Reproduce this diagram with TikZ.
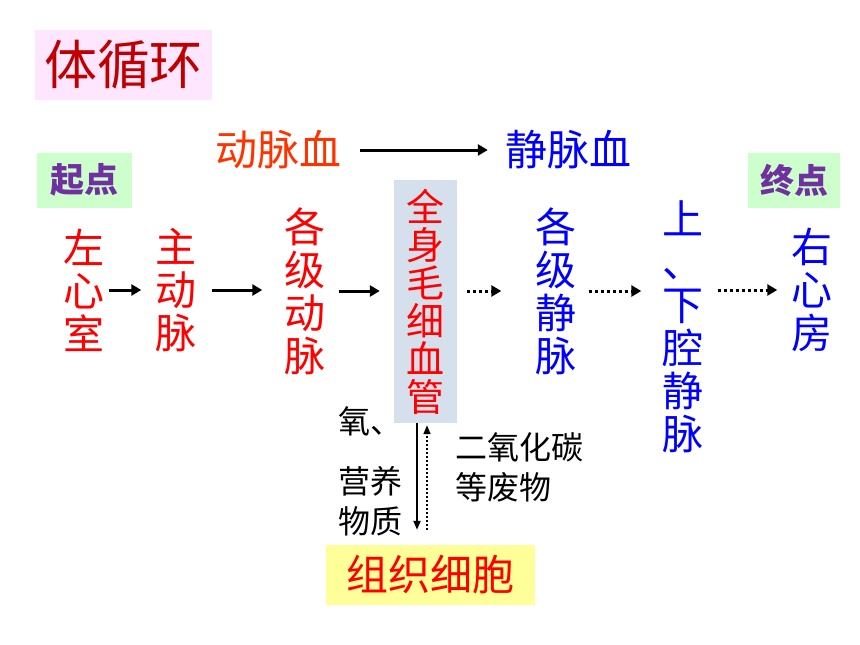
\documentclass[tikz,border=0pt]{standalone}
\usepackage{fontspec}
\setmainfont{Noto Sans CJK SC}
\usetikzlibrary{arrows.meta}
\definecolor{titlered}{HTML}{C00000}
\definecolor{artred}{HTML}{FF3300}
\definecolor{pinkbg}{HTML}{FFE6FF}
\definecolor{greenbg}{HTML}{CCFFCC}
\definecolor{capbg}{HTML}{D6E0EC}
\definecolor{yellowbg}{HTML}{FFFF99}
\definecolor{purp}{HTML}{7030A0}
\tikzset{
  vtext/.style={align=center,inner sep=0pt,font=\fontsize{41}{43}\selectfont},
  lbl/.style={inner sep=0pt,align=left,text=black,font=\fontsize{32}{40}\selectfont},
  arr/.style={-{Triangle[length=10pt,width=11pt]},line width=3pt},
  dotarr/.style={arr,dash pattern=on 3pt off 3pt},
  varr/.style={-{Triangle[length=9pt,width=7pt]},line width=2pt},
  tag/.style={inner sep=0pt,text=purp,font=\fontsize{34}{34}\selectfont\bfseries}
}
\begin{document}
\begin{tikzpicture}[x=1pt,y=-1pt]
				\useasboundingbox (0,0) rectangle (860,645);
				% title and end tags
				\node[fill=pinkbg,minimum width=177pt,minimum height=70pt,inner sep=0pt,text=titlered,font=\fontsize{53}{53}\selectfont] (title) at (123.5,65) {体循环};
				\node[tag,fill=greenbg,minimum width=95pt,minimum height=55pt] (start) at (84.5,180) {起点};
				\node[tag,fill=greenbg,minimum width=92pt,minimum height=55pt] (end) at (794,180) {终点};
				% blood
				\node[inner sep=0pt,text=artred,font=\fontsize{42}{42}\selectfont] (art) at (278,150) {动脉血};
				\node[inner sep=0pt,text=blue,font=\fontsize{42}{42}\selectfont] (ven) at (568,150) {静脉血};
				\draw [arr,shorten <=19pt,shorten >=17pt](art)--(ven);
				% vessels
				\node[vtext,text=red] (lv) at (84,290) {左\\心\\室};
				\node[vtext,text=red] (ao) at (176,290) {主\\动\\脉};
				\node[vtext,text=red] (ga) at (305,291) {各\\级\\动\\脉};
				\node[vtext,text=red,fill=capbg,minimum width=63pt,minimum height=243pt,font=\fontsize{38}{38}\selectfont] (cap) at (425.5,301.5) {全\\身\\毛\\细\\血\\管};
				\node[vtext,text=blue] (gv) at (556,291) {各\\级\\静\\脉};
				\node[vtext,text=blue] (sv) at (683,327) {上\\、\\下\\腔\\静\\脉};
				\node[vtext,text=blue] (ra) at (812,290) {右\\心\\房};
				\draw [arr,shorten <=4pt,shorten >=14pt](lv.east)--(lv.east-|ao.west);
				\draw [arr,shorten <=15pt,shorten >=22pt](ao.east)--(ao.east-|ga.west);
				\draw [arr,shorten <=13pt,shorten >=14pt](ga.east)--(ga.east-|cap.west);
				\draw [dotarr,shorten <=10pt,shorten >=34pt](gv.west-|cap.east)--(gv.west);
				\draw [dotarr,shorten <=12pt,shorten >=21pt](gv.east)--(gv.east-|sv.west);
				\draw [dotarr,shorten <=14pt,shorten >=14pt](ra.west-|sv.east)--(ra.west);
				% tissue exchange
				\node[fill=yellowbg,minimum width=209pt,minimum height=60pt,inner sep=0pt,text=red,font=\fontsize{42}{42}\selectfont] (tc) at (430.5,575) {组织细胞};
				\coordinate (down) at ([xshift=-8.5pt]cap.south);
				\coordinate (up) at ([xshift=1.5pt]cap.south);
				\draw [varr,shorten >=15pt](down)--(down|-tc.north);
				\draw [varr,dash pattern=on 2pt off 2pt,line width=1.6pt,shorten >=2pt,shorten <=15pt](up|-tc.north)--(up);
				\node[lbl,anchor=west] (oxy) at (338,421) {氧、};
				\node[lbl,anchor=west] (nutr) at (338,501) {营养\\物质};
				\node[lbl,anchor=west] (waste) at (455,467) {二氧化碳\\等废物};
			\end{tikzpicture}
\end{document}
